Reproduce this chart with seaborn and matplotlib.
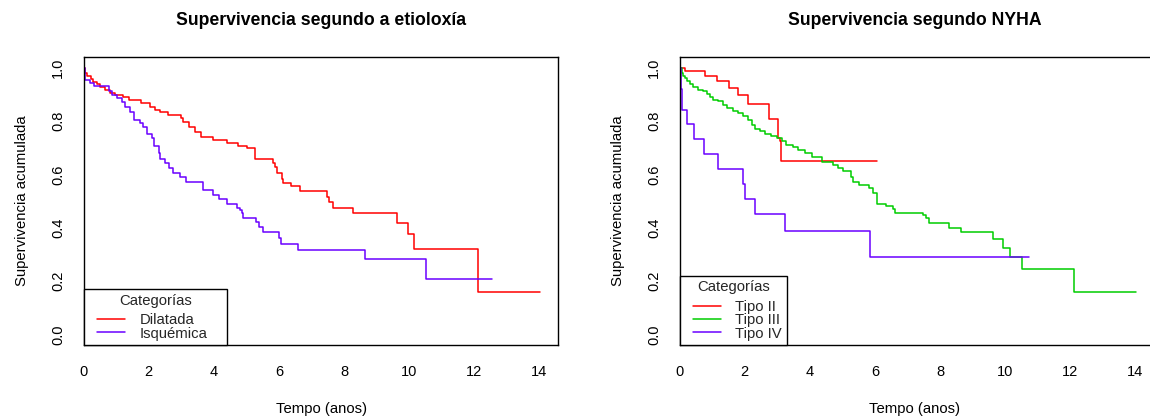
import numpy as np
import pandas as pd
import matplotlib
matplotlib.use("Agg")
import matplotlib.pyplot as plt
import seaborn as sns
from matplotlib.legend_handler import HandlerLine2D

# ---------------- data ----------------
# Left panel: survival by aetiology
dil_t = [0, 0.03, 0.11, 0.21, 0.30, 0.40, 0.50, 0.65, 0.81, 0.96, 1.22, 1.40, 1.75, 2.05, 2.20,
         2.34, 2.60, 3.00, 3.06, 3.22, 3.42, 3.60, 3.98, 4.40, 4.75, 5.01, 5.26, 5.83, 5.88, 5.93,
         6.08, 6.12, 6.36, 6.63, 7.48, 7.55, 7.67, 8.28, 9.63, 9.97, 10.15, 12.12, 14.02]
dil_s = [1.0, 0.980, 0.970, 0.960, 0.949, 0.939, 0.930, 0.917, 0.907, 0.898, 0.892, 0.880, 0.867,
         0.852, 0.842, 0.833, 0.823, 0.814, 0.798, 0.779, 0.759, 0.740, 0.730, 0.720, 0.708, 0.698,
         0.660, 0.642, 0.629, 0.604, 0.585, 0.570, 0.556, 0.538, 0.516, 0.497, 0.476, 0.454, 0.417,
         0.376, 0.322, 0.160, 0.160]
isq_t = [0, 0.05, 0.19, 0.33, 0.77, 0.86, 1.01, 1.17, 1.27, 1.42, 1.53, 1.73, 1.83, 1.95, 2.09,
         2.16, 2.30, 2.35, 2.50, 2.62, 2.74, 2.96, 3.14, 3.66, 3.98, 4.15, 4.41, 4.72, 4.80, 4.85,
         4.88, 5.28, 5.40, 5.52, 6.00, 6.06, 6.58, 8.64, 10.51, 12.53]
isq_s = [1.0, 0.955, 0.942, 0.933, 0.915, 0.900, 0.889, 0.873, 0.855, 0.836, 0.805, 0.795, 0.777,
         0.752, 0.736, 0.706, 0.679, 0.660, 0.642, 0.623, 0.604, 0.589, 0.573, 0.542, 0.523, 0.507,
         0.491, 0.476, 0.466, 0.454, 0.438, 0.422, 0.403, 0.385, 0.360, 0.338, 0.316, 0.281, 0.209,
         0.209]

# Right panel: survival by NYHA class
t2_t = [0, 0.17, 0.77, 1.16, 1.50, 1.78, 2.11, 2.73, 3.01, 3.07, 3.12, 6.07]
t2_s = [1.0, 0.989, 0.971, 0.951, 0.926, 0.897, 0.864, 0.807, 0.737, 0.725, 0.651, 0.651]
t3_t = [0, 0.06, 0.11, 0.16, 0.23, 0.32, 0.42, 0.57, 0.73, 0.83, 0.93, 1.03, 1.19, 1.34, 1.44,
        1.65, 1.80, 1.95, 2.11, 2.21, 2.31, 2.47, 2.62, 2.82, 2.98, 3.13, 3.28, 3.49, 3.64, 3.85,
        4.05, 4.36, 4.72, 4.87, 5.03, 5.25, 5.33, 5.52, 5.82, 5.94, 6.07, 6.33, 6.56, 6.62, 7.48,
        7.56, 7.67, 8.27, 8.63, 9.63, 9.94, 10.14, 10.51, 12.11, 14.03]
t3_s = [1.0, 0.981, 0.969, 0.963, 0.950, 0.940, 0.927, 0.919, 0.912, 0.902, 0.890, 0.881, 0.877,
        0.862, 0.850, 0.840, 0.831, 0.818, 0.806, 0.787, 0.772, 0.762, 0.752, 0.743, 0.737, 0.724,
        0.712, 0.705, 0.693, 0.680, 0.667, 0.648, 0.635, 0.623, 0.614, 0.591, 0.572, 0.560, 0.548,
        0.529, 0.491, 0.481, 0.469, 0.457, 0.447, 0.435, 0.417, 0.401, 0.386, 0.357, 0.326, 0.291,
        0.244, 0.160, 0.160]
t4_t = [0, 0.03, 0.06, 0.21, 0.45, 0.75, 1.17, 1.94, 2.01, 2.30, 3.24, 5.85, 10.72]
t4_s = [1.0, 0.92, 0.842, 0.789, 0.735, 0.677, 0.620, 0.564, 0.508, 0.451, 0.387, 0.289, 0.289]

left_groups = ["Dilatada", "Isquémica"]
right_groups = ["Tipo II", "Tipo III", "Tipo IV"]
left_colors = ["#FF0000", "#6A00FF"]
right_colors = ["#FF0000", "#00CD00", "#6A00FF"]

x_ticks = [0, 2, 4, 6, 8, 10, 12, 14]
y_ticks = [0.0, 0.2, 0.4, 0.6, 0.8, 1.0]
y_ticklabels = ["0.0", "0.2", "0.4", "0.6", "0.8", "1.0"]

titles = ["Supervivencia segundo a etioloxía", "Supervivencia segundo NYHA"]
xlabel = "Tempo (anos)"
ylabel = "Supervivencia acumulada"
legend_title = "Categorías"


def frame(ts, ss, names):
    parts = []
    for t, s, n in zip(ts, ss, names):
        parts.append(pd.DataFrame({"tempo": t, "supervivencia": s, "categoria": n}))
    return pd.concat(parts, ignore_index=True)


df_left = frame([dil_t, isq_t], [dil_s, isq_s], left_groups)
df_right = frame([t2_t, t3_t, t4_t], [t2_s, t3_s, t4_s], right_groups)

# ---------------- style ----------------
sns.set_theme(style="white")
plt.rcParams["font.family"] = ["Liberation Sans", "DejaVu Sans"]
plt.rcParams["axes.edgecolor"] = "black"
plt.rcParams["axes.linewidth"] = 1.0

FS_LAB = 10.7
FS_TICK = 10.5
FS_TITLE = 12.7

W, H = 1150, 418
fig = plt.figure(figsize=(W / 100, H / 100), dpi=100)
fig.patch.set_facecolor("white")

ax_bottom = 345
ax_top = 57.3
ax_h = ax_bottom - ax_top
full_w = 474.6
xmax_full = 14.58

ax1 = fig.add_axes([83.7 / W, (H - ax_bottom) / H, full_w / W, ax_h / H])
right_left = 679.7
right_w = W - right_left
ax2 = fig.add_axes([right_left / W, (H - ax_bottom) / H, right_w / W, ax_h / H])


def draw(ax, df, groups, colors, title, xmax, width_px, legend_w_px, hide_right):
    sns.lineplot(data=df, x="tempo", y="supervivencia", hue="categoria",
                 hue_order=groups, palette=colors, drawstyle="steps-post",
                 estimator=None, sort=False, linewidth=1.1, ax=ax, legend=False)
    ax.set_xlim(0, xmax)
    ax.set_ylim(-0.04, 1.04)
    ax.set_xticks(x_ticks)
    ax.set_xticklabels([str(v) for v in x_ticks])
    ax.set_yticks(y_ticks)
    ax.set_yticklabels(y_ticklabels, rotation=90, va="center")
    ax.tick_params(axis="both", which="major", direction="out", length=6.5, width=0.9,
                   color="black", labelsize=FS_TICK, labelcolor="black")
    ax.tick_params(axis="x", pad=8.0)
    ax.tick_params(axis="y", pad=6.8)
    ax.set_xlabel(xlabel, fontsize=FS_LAB, color="black")
    ax.set_ylabel(ylabel, fontsize=FS_LAB, color="black")
    ax.xaxis.set_label_coords(0.5, (ax_bottom - 402.3) / ax_h)
    ax.yaxis.set_label_coords(-54.3 / width_px, 0.5)
    ax.set_title(title, fontsize=FS_TITLE, fontweight="bold", pad=23, color="black")
    for side in ["left", "bottom", "top", "right"]:
        ax.spines[side].set_visible(True)
        ax.spines[side].set_color("black")
        ax.spines[side].set_linewidth(1.0)
    if hide_right:
        ax.spines["right"].set_visible(False)
    handles = ax.get_lines()[:len(groups)]
    hmap = {h: HandlerLine2D(xpad=0.62) for h in handles}
    leg = ax.legend(handles, groups, title=legend_title, loc="lower left",
                    bbox_to_anchor=(0, 0, legend_w_px / width_px, 1), mode="expand",
                    borderaxespad=0, fancybox=False, frameon=True, framealpha=1,
                    edgecolor="black", fontsize=FS_LAB, title_fontsize=FS_LAB,
                    handlelength=2.5, handletextpad=0.95, labelspacing=-0.04,
                    borderpad=0.3, handler_map=hmap)
    leg.get_frame().set_linewidth(1.0)
    # a little more room between the legend title and its entries (as in R)
    leg._legend_box.sep = -0.04 * FS_LAB + 4.3
    ax.grid(False)


draw(ax1, df_left, left_groups, left_colors, titles[0], xmax_full, full_w, 143.0, False)
draw(ax2, df_right, right_groups, right_colors, titles[1], xmax_full * right_w / full_w,
     right_w, 107.6, True)

fig.savefig("out.png", dpi=100, facecolor="white")
